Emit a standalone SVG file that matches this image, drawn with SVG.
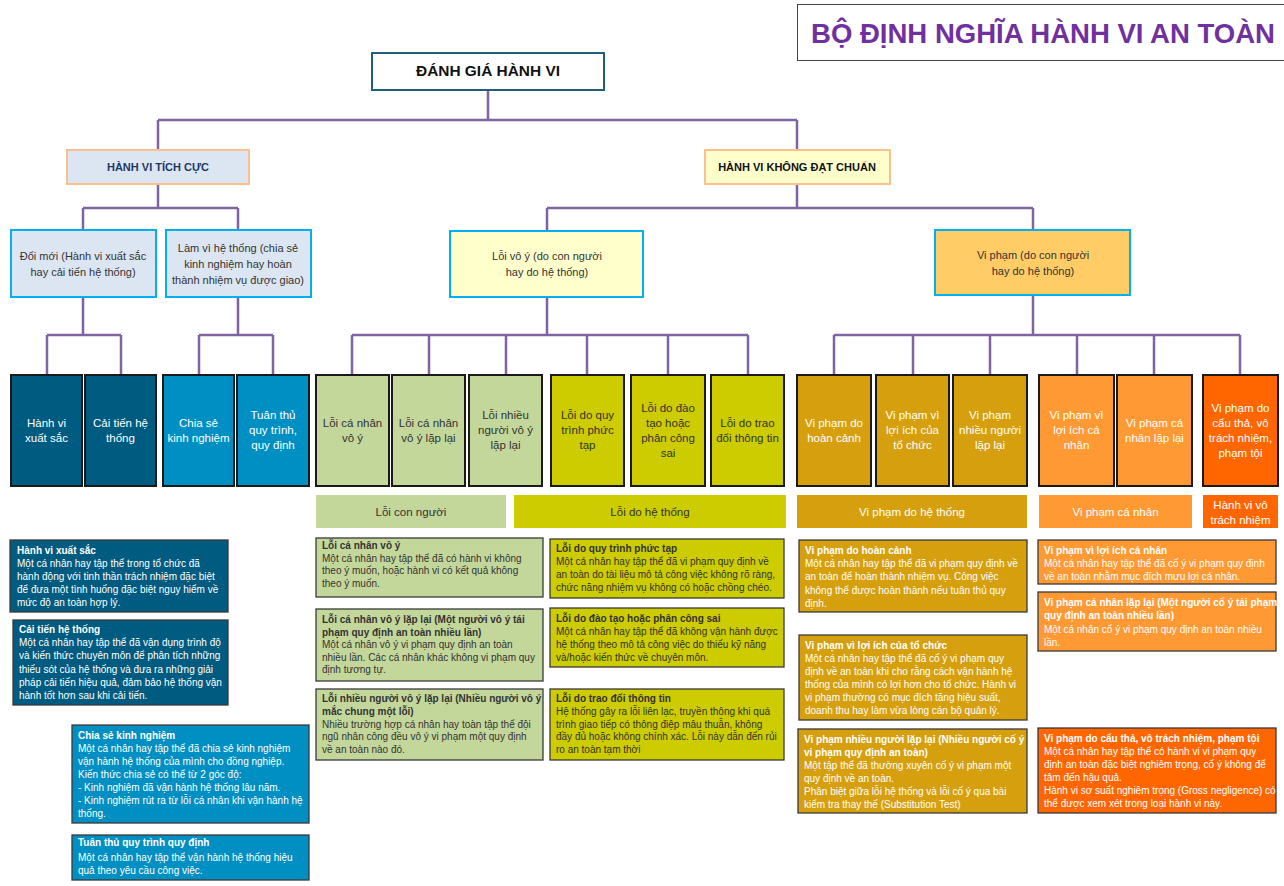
<svg xmlns="http://www.w3.org/2000/svg" width="1284" height="886" viewBox="0 0 1284 886">
<style>
text{font-family:"Liberation Sans",Arial,sans-serif}
.conn{fill:none;stroke:#8064A2;stroke-width:2.5}
.l3{stroke:#1a1a1a;stroke-width:2}
.t3{font-size:11.5px;text-anchor:middle}
.t2{font-size:11px;text-anchor:middle;fill:#333}
.w{fill:#fff}
.k{fill:#333}
.d{stroke:#3a3a3a;stroke-width:1.3}
.dt{font-size:10px}
.b{font-weight:bold}
.g{text-anchor:middle;font-size:11.5px}
</style>
<rect width="1284" height="886" fill="#fff"/>

<g id="title">
<rect x="797.5" y="4.5" width="490" height="56" fill="#fff" stroke="#444" stroke-width="1"/>
<text x="811" y="43" font-size="27.5" font-weight="bold" fill="#7030A0" textLength="464" lengthAdjust="spacingAndGlyphs">BỘ ĐỊNH NGHĨA HÀNH VI AN TOÀN</text>
</g>

<g id="connectors">
<path class="conn" d="M488 90V120M158 120H797M158 120V150M797 120V150"/>
<path class="conn" d="M158 184V208M83 208H238M83 208V230M238 208V230"/>
<path class="conn" d="M797 184V208M547 208H1033M547 208V231M1033 208V230"/>
<path class="conn" d="M83 297V335M47 335H121M47 335V374M121 335V374"/>
<path class="conn" d="M238 297V335M199 335H273M199 335V374M273 335V374"/>
<path class="conn" d="M547 297V335M352 335H748M352 335V374M429 335V374M506 335V374M587 335V374M668 335V374M748 335V374"/>
<path class="conn" d="M1033 295V335M834 335H1240M834 335V374M913 335V374M990 335V374M1077 335V374M1154 335V374M1240 335V374"/>
</g>

<g id="root">
<rect x="372" y="53" width="232" height="37" fill="#fff" stroke="#1F5F7A" stroke-width="2"/>
<text x="488" y="76" font-size="14" font-weight="bold" text-anchor="middle" fill="#111" textLength="144" lengthAdjust="spacingAndGlyphs">ĐÁNH GIÁ HÀNH VI</text>
</g>

<g id="positive">
<rect x="67" y="150" width="182" height="34" fill="#DCE6F2" stroke="#FAC090" stroke-width="2"/>
<text x="158" y="171" font-size="11" font-weight="bold" text-anchor="middle" fill="#1F3864">HÀNH VI TÍCH CỰC</text>
</g>
<g id="substandard">
<rect x="705" y="150" width="185" height="34" fill="#FFFFCC" stroke="#FAC090" stroke-width="2"/>
<text x="797" y="171" font-size="11" font-weight="bold" text-anchor="middle" fill="#111">HÀNH VI KHÔNG ĐẠT CHUẨN</text>
</g>

<g id="innovation">
<rect x="11" y="230" width="145" height="67" fill="#DCE6F2" stroke="#00B0F0" stroke-width="2"/>
<text class="t2" x="83" y="260">Đổi mới (Hành vi xuất sắc</text>
<text class="t2" x="83" y="276">hay cải tiến hệ thống)</text>
</g>
<g id="for-system">
<rect x="166" y="230" width="145" height="67" fill="#DCE6F2" stroke="#00B0F0" stroke-width="2"/>
<text class="t2" x="238" y="252">Làm vì hệ thống (chia sẻ</text>
<text class="t2" x="238" y="268">kinh nghiệm hay hoàn</text>
<text class="t2" x="238" y="284">thành nhiệm vụ được giao)</text>
</g>
<g id="unintended">
<rect x="450" y="231" width="193" height="66" fill="#FFFFCC" stroke="#00B0F0" stroke-width="2"/>
<text class="t2" x="547" y="260">Lỗi vô ý (do con người</text>
<text class="t2" x="547" y="276">hay do hệ thống)</text>
</g>
<g id="violation">
<rect x="935" y="230" width="195" height="65" fill="#FFCC66" stroke="#00B0F0" stroke-width="2"/>
<text class="t2" x="1033" y="259">Vi phạm (do con người</text>
<text class="t2" x="1033" y="275">hay do hệ thống)</text>
</g>

<g id="n-excellent"><rect class="l3" x="11" y="375" width="71" height="111" fill="#005B80"/>
<text class="t3 w" x="46.5" y="427">Hành vi</text><text class="t3 w" x="46.5" y="442">xuất sắc</text></g>
<g id="n-improve"><rect class="l3" x="85" y="375" width="71" height="111" fill="#005B80"/>
<text class="t3 w" x="120.5" y="427">Cải tiến hệ</text><text class="t3 w" x="120.5" y="442">thống</text></g>
<g id="n-share"><rect class="l3" x="163" y="375" width="71" height="111" fill="#008FC2"/>
<text class="t3 w" x="198.5" y="427">Chia sẻ</text><text class="t3 w" x="198.5" y="442">kinh nghiệm</text></g>
<g id="n-comply"><rect class="l3" x="237" y="375" width="72" height="111" fill="#008FC2"/>
<text class="t3 w" x="273" y="419">Tuân thủ</text><text class="t3 w" x="273" y="434">quy trình,</text><text class="t3 w" x="273" y="449">quy định</text></g>

<g id="n-ind"><rect class="l3" x="316" y="375" width="73" height="111" fill="#C4D79B"/>
<text class="t3 k" x="352.5" y="427">Lỗi cá nhân</text><text class="t3 k" x="352.5" y="442">vô ý</text></g>
<g id="n-ind-rep"><rect class="l3" x="392" y="375" width="73" height="111" fill="#C4D79B"/>
<text class="t3 k" x="428.5" y="427">Lỗi cá nhân</text><text class="t3 k" x="428.5" y="442">vô ý lặp lại</text></g>
<g id="n-multi"><rect class="l3" x="469" y="375" width="73" height="111" fill="#C4D79B"/>
<text class="t3 k" x="505.5" y="419">Lỗi nhiều</text><text class="t3 k" x="505.5" y="434">người vô ý</text><text class="t3 k" x="505.5" y="449">lặp lại</text></g>
<g id="n-proc"><rect class="l3" x="551" y="375" width="73" height="111" fill="#CCCC00"/>
<text class="t3 k" x="587.5" y="419">Lỗi do quy</text><text class="t3 k" x="587.5" y="434">trình phức</text><text class="t3 k" x="587.5" y="449">tạp</text></g>
<g id="n-train"><rect class="l3" x="631" y="375" width="74" height="111" fill="#CCCC00"/>
<text class="t3 k" x="668" y="412">Lỗi do đào</text><text class="t3 k" x="668" y="427">tạo hoặc</text><text class="t3 k" x="668" y="442">phân công</text><text class="t3 k" x="668" y="457">sai</text></g>
<g id="n-comm"><rect class="l3" x="711" y="375" width="73" height="111" fill="#CCCC00"/>
<text class="t3 k" x="747.5" y="427">Lỗi do trao</text><text class="t3 k" x="747.5" y="442">đổi thông tin</text></g>

<g id="n-circ"><rect class="l3" x="797" y="375" width="74" height="111" fill="#D69F0E"/>
<text class="t3 w" x="834" y="427">Vi phạm do</text><text class="t3 w" x="834" y="442">hoàn cảnh</text></g>
<g id="n-org"><rect class="l3" x="876" y="375" width="73" height="111" fill="#D69F0E"/>
<text class="t3 w" x="912.5" y="419">Vi phạm vì</text><text class="t3 w" x="912.5" y="434">lợi ích của</text><text class="t3 w" x="912.5" y="449">tổ chức</text></g>
<g id="n-multi-v"><rect class="l3" x="953" y="375" width="74" height="111" fill="#D69F0E"/>
<text class="t3 w" x="990" y="419">Vi phạm</text><text class="t3 w" x="990" y="434">nhiều người</text><text class="t3 w" x="990" y="449">lặp lại</text></g>
<g id="n-self"><rect class="l3" x="1039" y="375" width="75" height="111" fill="#FF9933"/>
<text class="t3 w" x="1076.5" y="419">Vi phạm vì</text><text class="t3 w" x="1076.5" y="434">lợi ích cá</text><text class="t3 w" x="1076.5" y="449">nhân</text></g>
<g id="n-self-rep"><rect class="l3" x="1117" y="375" width="75" height="111" fill="#FF9933"/>
<text class="t3 w" x="1154.5" y="427">Vi phạm cá</text><text class="t3 w" x="1154.5" y="442">nhân lặp lại</text></g>
<g id="n-reckless"><rect class="l3" x="1203" y="375" width="75" height="111" fill="#FF6600"/>
<text class="t3 w" x="1240.5" y="412">Vi phạm do</text><text class="t3 w" x="1240.5" y="427">cẩu thả, vô</text><text class="t3 w" x="1240.5" y="442">trách nhiệm,</text><text class="t3 w" x="1240.5" y="457">phạm tội</text></g>

<g id="grp-human"><rect x="316" y="495" width="190" height="33" fill="#C4D79B"/><text class="g k" x="411" y="515.5">Lỗi con người</text></g>
<g id="grp-system"><rect x="514" y="495" width="272" height="33" fill="#CCCC00"/><text class="g k" x="650" y="515.5">Lỗi do hệ thống</text></g>
<g id="grp-sysviol"><rect x="797" y="495" width="230" height="33" fill="#D69F0E"/><text class="g w" x="912" y="515.5">Vi phạm do hệ thống</text></g>
<g id="grp-indviol"><rect x="1039" y="495" width="153" height="33" fill="#FF9933"/><text class="g w" x="1115.5" y="515.5">Vi phạm cá nhân</text></g>
<g id="grp-reckless"><rect x="1203" y="495" width="75" height="33" fill="#FF6600"/><text class="g w" x="1240.5" y="509">Hành vi vô</text><text class="g w" x="1240.5" y="524">trách nhiệm</text></g>

<g id="d-excellent"><rect class="d" x="10" y="540" width="218" height="72" fill="#005B80"/>
<text class="dt w" x="17" y="554"><tspan class="b">Hành vi xuất sắc</tspan><tspan x="17" dy="13">Một cá nhân hay tập thể trong tổ chức đã</tspan><tspan x="17" dy="13">hành động với tinh thần trách nhiệm đặc biệt</tspan><tspan x="17" dy="13">để đưa một tình huống đặc biệt nguy hiểm về</tspan><tspan x="17" dy="13">mức độ an toàn hợp lý.</tspan></text></g>

<g id="d-improve"><rect class="d" x="13" y="620" width="215" height="85" fill="#005B80"/>
<text class="dt w" x="19" y="633"><tspan class="b">Cải tiến hệ thống</tspan><tspan x="19" dy="13.2">Một cá nhân hay tập thể đã vận dụng trình độ</tspan><tspan x="19" dy="13.2">và kiến thức chuyên môn để phân tích những</tspan><tspan x="19" dy="13.2">thiếu sót của hệ thống và đưa ra những giải</tspan><tspan x="19" dy="13.2">pháp cải tiến hiệu quả, đảm bảo hệ thống vận</tspan><tspan x="19" dy="13.2">hành tốt hơn sau khi cải tiến.</tspan></text></g>

<g id="d-share"><rect class="d" x="72" y="725" width="237" height="98" fill="#008FC2"/>
<text class="dt w" x="78" y="739"><tspan class="b">Chia sẻ kinh nghiệm</tspan><tspan x="78" dy="13">Một cá nhân hay tập thể đã chia sẻ kinh nghiệm</tspan><tspan x="78" dy="13">vận hành hệ thống của mình cho đồng nghiệp.</tspan><tspan x="78" dy="13">Kiến thức chia sẻ có thể từ 2 góc độ:</tspan><tspan x="78" dy="13">- Kinh nghiệm đã vận hành hệ thống lâu năm.</tspan><tspan x="78" dy="13">- Kinh nghiệm rút ra từ lỗi cá nhân khi vận hành hệ</tspan><tspan x="78" dy="13">thống.</tspan></text></g>

<g id="d-comply"><rect class="d" x="72" y="835" width="237" height="45" fill="#008FC2"/>
<text class="dt w" x="78" y="846"><tspan class="b">Tuân thủ quy trình quy định</tspan><tspan x="78" dy="14.5">Một cá nhân hay tập thể vận hành hệ thống hiệu</tspan><tspan x="78" dy="13">quả theo yêu cầu công việc.</tspan></text></g>

<g id="d-ind"><rect class="d" x="316" y="538" width="227" height="59" fill="#C4D79B"/>
<text class="dt k" x="322" y="549"><tspan class="b">Lỗi cá nhân vô ý</tspan><tspan x="322" dy="12.5">Một cá nhân hay tập thể đã có hành vi không</tspan><tspan x="322" dy="12.5">theo ý muốn, hoặc hành vi có kết quả không</tspan><tspan x="322" dy="12.5">theo ý muốn.</tspan></text></g>

<g id="d-ind-rep"><rect class="d" x="316" y="609" width="227" height="72" fill="#C4D79B"/>
<text class="dt k" x="322" y="623"><tspan class="b">Lỗi cá nhân vô ý lặp lại (Một người vô ý tái</tspan><tspan class="b" x="322" dy="12.6">phạm quy định an toàn nhiều lần)</tspan><tspan x="322" dy="12.6">Một cá nhân vô ý vi phạm quy định an toàn</tspan><tspan x="322" dy="12.6">nhiều lần. Các cá nhân khác không vi phạm quy</tspan><tspan x="322" dy="12.6">định tương tự.</tspan></text></g>

<g id="d-multi"><rect class="d" x="316" y="689" width="227" height="71" fill="#C4D79B"/>
<text class="dt k" x="322" y="702"><tspan class="b">Lỗi nhiều người vô ý lặp lại (Nhiều người vô ý</tspan><tspan class="b" x="322" dy="12.8">mắc chung một lỗi)</tspan><tspan x="322" dy="12.8">Nhiều trường hợp cá nhân hay toàn tập thể đội</tspan><tspan x="322" dy="12.8">ngũ nhân công đều vô ý vi phạm một quy định</tspan><tspan x="322" dy="12.8">về an toàn nào đó.</tspan></text></g>

<g id="d-proc"><rect class="d" x="550" y="539" width="234" height="59" fill="#CCCC00"/>
<text class="dt k" x="556" y="552"><tspan class="b">Lỗi do quy trình phức tạp</tspan><tspan x="556" dy="13">Một cá nhân hay tập thể đã vi phạm quy định về</tspan><tspan x="556" dy="13">an toàn do tài liệu mô tả công việc không rõ ràng,</tspan><tspan x="556" dy="13">chức năng nhiệm vụ không có hoặc chồng chéo.</tspan></text></g>

<g id="d-train"><rect class="d" x="550" y="608" width="234" height="59" fill="#CCCC00"/>
<text class="dt k" x="556" y="622"><tspan class="b">Lỗi do đào tạo hoặc phân công sai</tspan><tspan x="556" dy="13">Một cá nhân hay tập thể đã không vận hành được</tspan><tspan x="556" dy="13">hệ thống theo mô tả công việc do thiếu kỹ năng</tspan><tspan x="556" dy="13">và/hoặc kiến thức về chuyên môn.</tspan></text></g>

<g id="d-comm"><rect class="d" x="550" y="689" width="234" height="71" fill="#CCCC00"/>
<text class="dt k" x="556" y="702"><tspan class="b">Lỗi do trao đổi thông tin</tspan><tspan x="556" dy="12.8">Hệ thống gây ra lỗi liên lạc, truyền thông khi quá</tspan><tspan x="556" dy="12.8">trình giao tiếp có thông điệp mâu thuẫn, không</tspan><tspan x="556" dy="12.8">đầy đủ hoặc không chính xác. Lỗi này dẫn đến rủi</tspan><tspan x="556" dy="12.8">ro an toàn tạm thời</tspan></text></g>

<g id="d-circ"><rect class="d" x="799" y="540" width="228" height="72" fill="#D69F0E"/>
<text class="dt w" x="805" y="554"><tspan class="b">Vi phạm do hoàn cảnh</tspan><tspan x="805" dy="13.2">Một cá nhân hay tập thể đã vi phạm quy định về</tspan><tspan x="805" dy="13.2">an toàn để hoàn thành nhiệm vụ. Công việc</tspan><tspan x="805" dy="13.2">không thể được hoàn thành nếu tuân thủ quy</tspan><tspan x="805" dy="13.2">định.</tspan></text></g>

<g id="d-org"><rect class="d" x="799" y="635" width="228" height="85" fill="#D69F0E"/>
<text class="dt w" x="805" y="649"><tspan class="b">Vi phạm vì lợi ích của tổ chức</tspan><tspan x="805" dy="13">Một cá nhân hay tập thể đã cố ý vi phạm quy</tspan><tspan x="805" dy="13">định về an toàn khi cho rằng cách vận hành hệ</tspan><tspan x="805" dy="13">thống của mình có lợi hơn cho tổ chức. Hành vi</tspan><tspan x="805" dy="13">vi phạm thường có mục đích tăng hiệu suất,</tspan><tspan x="805" dy="13">doanh thu hay làm vừa lòng cán bộ quản lý.</tspan></text></g>

<g id="d-multi-v"><rect class="d" x="798" y="729" width="229" height="84" fill="#D69F0E"/>
<text class="dt w" x="804" y="743"><tspan class="b">Vi phạm nhiều người lặp lại (Nhiều người cố ý</tspan><tspan class="b" x="804" dy="13">vi phạm quy định an toàn)</tspan><tspan x="804" dy="13">Một tập thể đã thường xuyên cố ý vi phạm một</tspan><tspan x="804" dy="13">quy định về an toàn.</tspan><tspan x="804" dy="13">Phân biệt giữa lỗi hệ thống và lỗi cố ý qua bài</tspan><tspan x="804" dy="13">kiểm tra thay thế (Substitution Test)</tspan></text></g>

<g id="d-self"><rect class="d" x="1038" y="540" width="238" height="44" fill="#FF9933"/>
<text class="dt w" x="1044" y="554"><tspan class="b">Vi phạm vì lợi ích cá nhân</tspan><tspan x="1044" dy="12.8">Một cá nhân hay tập thể đã cố ý vi phạm quy định</tspan><tspan x="1044" dy="12.8">về an toàn nhằm mục đích mưu lợi cá nhân.</tspan></text></g>

<g id="d-self-rep"><rect class="d" x="1038" y="592" width="238" height="59" fill="#FF9933"/>
<text class="dt w" x="1044" y="606"><tspan class="b">Vi phạm cá nhân lặp lại (Một người cố ý tái phạm</tspan><tspan class="b" x="1044" dy="13.3">quy định an toàn nhiều lần)</tspan><tspan x="1044" dy="13.3">Một cá nhân cố ý vi phạm quy định an toàn nhiều</tspan><tspan x="1044" dy="13.3">lần.</tspan></text></g>

<g id="d-reckless"><rect class="d" x="1038" y="728" width="238" height="85" fill="#FF6600"/>
<text class="dt w" x="1044" y="742"><tspan class="b">Vi phạm do cẩu thả, vô trách nhiệm, phạm tội</tspan><tspan x="1044" dy="13">Một cá nhân hay tập thể có hành vi vi phạm quy</tspan><tspan x="1044" dy="13">định an toàn đặc biệt nghiêm trọng, cố ý không để</tspan><tspan x="1044" dy="13">tâm đến hậu quả.</tspan><tspan x="1044" dy="13">Hành vi sơ suất nghiêm trọng (Gross negligence) có</tspan><tspan x="1044" dy="13">thể được xem xét trong loại hành vi này.</tspan></text></g>
</svg>
